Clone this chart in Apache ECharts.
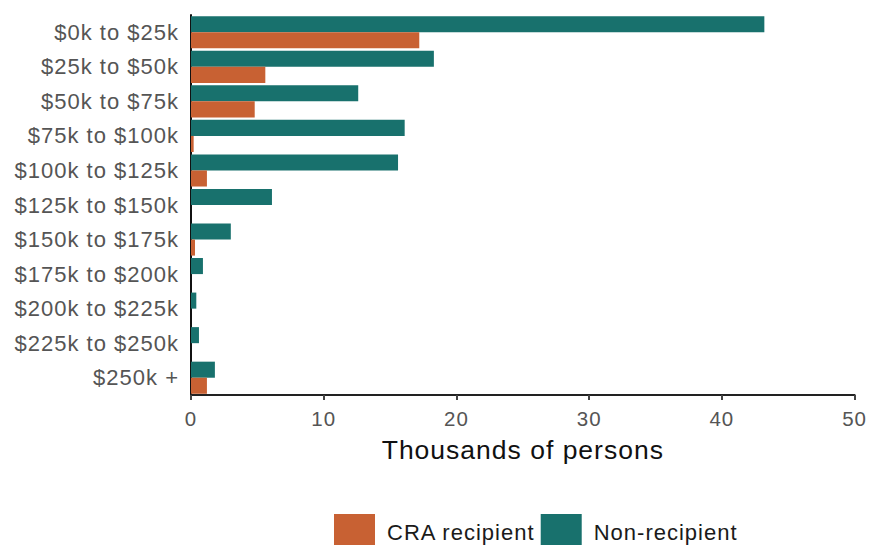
<!DOCTYPE html>
<html><head><meta charset="utf-8">
<script src="https://cdn.jsdelivr.net/npm/echarts@6/dist/echarts.min.js"></script>
<style>html,body{margin:0;padding:0;background:#fff}#c{width:869px;height:545px}#c text{letter-spacing:1px}</style>
</head><body><div id="c"></div>
<script>
const categories = ['$0k to $25k','$25k to $50k','$50k to $75k','$75k to $100k','$100k to $125k','$125k to $150k','$150k to $175k','$175k to $200k','$200k to $225k','$225k to $250k','$250k +'];
const nonRecipient = [43.2, 18.3, 12.6, 16.1, 15.6, 6.1, 3.0, 0.9, 0.4, 0.6, 1.8];
const craRecipient = [17.2, 5.6, 4.8, 0.2, 1.2, 0, 0.3, 0, 0, 0, 1.2];
const xTicks = [0, 10, 20, 30, 40, 50];

const chart = echarts.init(document.getElementById('c'), null, {renderer: 'svg'});
const font = 'Liberation Sans, Arial, sans-serif';
chart.setOption({
  animation: false,
  grid: {left: 191, right: 14, top: 15, bottom: 150},
  legend: {
    data: ['CRA recipient', 'Non-recipient'],
    left: 329, top: 509, itemWidth: 41, itemHeight: 36, itemGap: 18,
    icon: 'rect',
    textStyle: {fontFamily: font, fontSize: 22, color: '#1a1a1a', padding: [0, 0, 0, 7]}
  },
  xAxis: {
    type: 'value', min: xTicks[0], max: xTicks[xTicks.length - 1], interval: 10,
    name: 'Thousands of persons', nameLocation: 'middle', nameGap: 41,
    nameTextStyle: {fontFamily: font, fontSize: 26.5, color: '#111'},
    axisLine: {show: true, lineStyle: {color: '#222', width: 2}},
    axisTick: {show: true, length: 5, lineStyle: {color: '#444', width: 2}},
    axisLabel: {fontFamily: font, fontSize: 20.5, color: '#555', margin: 13},
    splitLine: {show: false}
  },
  yAxis: {
    type: 'category', data: categories, inverse: true,
    axisLine: {show: true, lineStyle: {color: '#111', width: 2}},
    axisTick: {show: false},
    axisLabel: {fontFamily: font, fontSize: 22, color: '#555', margin: 12}
  },
  series: [
    {name: 'Non-recipient', type: 'bar', data: nonRecipient, barGap: '0%', barCategoryGap: '7%', itemStyle: {color: '#18716D'}},
    {name: 'CRA recipient', type: 'bar', data: craRecipient, barGap: '0%', barCategoryGap: '7%', itemStyle: {color: '#C86133'}}
  ]
});
</script></body></html>
